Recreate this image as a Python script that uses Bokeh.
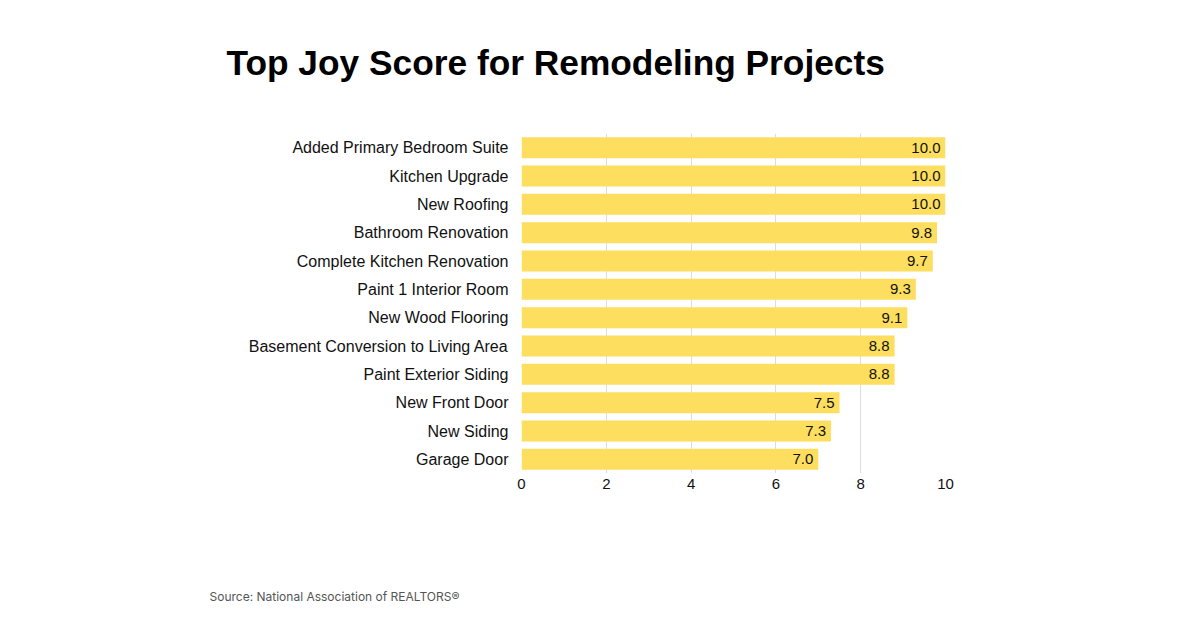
from bokeh.plotting import figure
from bokeh.models import ColumnDataSource, Range1d, FactorRange, LabelSet, Title
from bokeh.core.properties import value
from bokeh.embed import file_html
from bokeh.resources import INLINE

categories = [
    "Added Primary Bedroom Suite",
    "Kitchen Upgrade",
    "New Roofing",
    "Bathroom Renovation",
    "Complete Kitchen Renovation",
    "Paint 1 Interior Room",
    "New Wood Flooring",
    "Basement Conversion to Living Area",
    "Paint Exterior Siding",
    "New Front Door",
    "New Siding",
    "Garage Door",
]
scores = [10.0, 10.0, 10.0, 9.8, 9.7, 9.3, 9.1, 8.8, 8.8, 7.5, 7.3, 7.0]
x_ticks = [0, 2, 4, 6, 8, 10]

title_text = "Top Joy Score for Remodeling Projects"
source_text = "Source: National Association of REALTORS\u00ae"

src = ColumnDataSource(dict(
    cat=categories,
    score=scores,
    label=[f"{s:.1f}" for s in scores],
))

p = figure(
    width=1184, height=612,
    y_range=FactorRange(*reversed(categories), range_padding=0),
    x_range=Range1d(0, 10),
    output_backend="svg", toolbar_location=None,
    min_border_left=521, min_border_right=239,
    min_border_top=133, min_border_bottom=139,
)
p.outline_line_color = None
p.background_fill_color = "white"
p.border_fill_color = "white"

p.hbar(y="cat", right="score", left=0, height=0.74, source=src,
       fill_color="#FDDE5F", line_color=None)

labels = LabelSet(x="score", y="cat", text="label", source=src,
                  text_align="right", text_baseline="middle", x_offset=-5,
                  text_font=value("Liberation Sans"), text_font_size="15px",
                  text_color="#111111")
p.add_layout(labels)

p.ygrid.grid_line_color = None
p.xgrid.grid_line_color = "#dddddd"
p.xgrid.grid_line_width = 1
p.xaxis.ticker = x_ticks

for ax in (p.xaxis, p.yaxis):
    ax.axis_line_color = None
    ax.major_tick_line_color = None
    ax.minor_tick_line_color = None
    ax.major_tick_out = 0
    ax.major_tick_in = 0
    ax.minor_tick_out = 0
    ax.minor_tick_in = 0
    ax.major_label_text_font = "Liberation Sans"
    ax.major_label_text_color = "#111111"
p.yaxis.major_label_text_font_size = "16px"
p.xaxis.major_label_text_font_size = "15px"
p.yaxis.major_label_standoff = 13
p.xaxis.major_label_standoff = 5

# spacer between frame and title (closest to the frame)
p.add_layout(Title(text=" ", text_font_size="1px", standoff=44), "above")
title = Title(text=title_text, align="left", offset=-295, standoff=10,
              text_font="Liberation Sans", text_font_style="bold",
              text_font_size="35.3px", text_color="#000000")
p.add_layout(title, "above")

# spacer between x axis and source line
p.add_layout(Title(text=" ", text_font_size="1px", standoff=90), "below")
src_title = Title(text=source_text, align="left", offset=-312, standoff=4,
                  text_font="Inter", text_font_style="normal",
                  text_font_size="12px", text_color="#555555")
p.add_layout(src_title, "below")

open("out.html", "w").write(file_html(p, INLINE))
